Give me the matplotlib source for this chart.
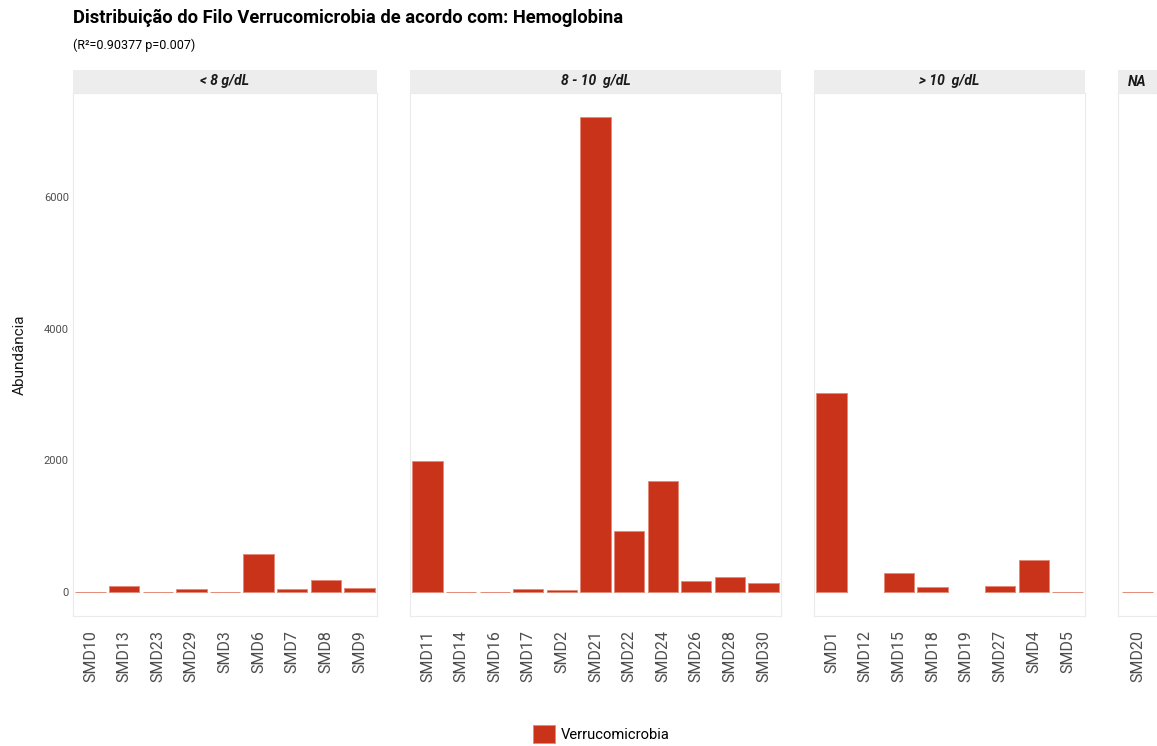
import matplotlib
matplotlib.use("Agg")
import matplotlib.pyplot as plt
from matplotlib.patches import Patch

plt.rcParams['font.family'] = ['Roboto', 'DejaVu Sans']

# Abundance of Verrucomicrobia per sample, grouped by haemoglobin level
groups = ["< 8 g/dL", "8 - 10  g/dL", "> 10  g/dL", "NA"]
samples_lt8 = ["SMD10", "SMD13", "SMD23", "SMD29", "SMD3", "SMD6", "SMD7", "SMD8", "SMD9"]
values_lt8 = [8, 88, 6, 50, 6, 577, 50, 178, 61]
samples_8_10 = ["SMD11", "SMD14", "SMD16", "SMD17", "SMD2", "SMD21", "SMD22", "SMD24", "SMD26", "SMD28", "SMD30"]
values_8_10 = [1990, 6, 6, 50, 28, 7216, 927, 1686, 167, 228, 142]
samples_gt10 = ["SMD1", "SMD12", "SMD15", "SMD18", "SMD19", "SMD27", "SMD4", "SMD5"]
values_gt10 = [3023, 0, 294, 76, 0, 101, 496, 6]
samples_na = ["SMD20"]
values_na = [6]

series_name = "Verrucomicrobia"
title = "Distribuição do Filo Verrucomicrobia de acordo com: Hemoglobina"
subtitle = "(R²=0.90377 p=0.007)"
y_label = "Abundância"
y_ticks = [0, 2000, 4000, 6000]

bar_color = "#C8331A"
edge_color = "#E58A78"
W, H = 1157, 746
fig = plt.figure(figsize=(W / 100, H / 100), dpi=100)

panels = [
    (samples_lt8, values_lt8, 73, 377),
    (samples_8_10, values_8_10, 410, 781),
    (samples_gt10, values_gt10, 814, 1085),
    (samples_na, values_na, 1118, 1157),
]
top_px, bot_px, strip_top = 93, 616, 70
ymax = max(values_lt8 + values_8_10 + values_gt10 + values_na)
ylim = (-0.05 * ymax, 1.05 * ymax)

for i, ((names, vals, x0, x1), label) in enumerate(zip(panels, groups)):
    ax = fig.add_axes([x0 / W, (H - bot_px) / H, (x1 - x0) / W, (bot_px - top_px) / H])
    xs = list(range(len(names)))
    widths = [0.7 if v > 0 else 0 for v in vals]
    ax.bar(xs, vals, width=0.9, color=bar_color, edgecolor=edge_color, linewidth=widths)
    n = len(names)
    if n == 1:
        ax.set_xlim(-0.577, 0.577)
    else:
        ax.set_xlim(-0.52, n - 0.48)
    ax.set_ylim(*ylim)
    ax.set_xticks(xs)
    ax.set_xticklabels(names, rotation=90, fontsize=11.5, color="#4D4D4D")
    ax.tick_params(axis='x', length=0, pad=10)
    ax.set_yticks(y_ticks)
    if i == 0:
        ax.set_yticklabels([str(v) for v in y_ticks], fontsize=8, color="#4D4D4D")
        ax.tick_params(axis='y', length=0, pad=3)
    else:
        ax.tick_params(axis='y', length=0, labelleft=False)
    for s in ax.spines.values():
        s.set_color("#EBEBEB")
        s.set_linewidth(0.8)
    # facet strip
    sax = fig.add_axes([x0 / W, (H - top_px) / H, (x1 - x0) / W, (top_px - strip_top) / H])
    sax.set_xticks([])
    sax.set_yticks([])
    sax.set_facecolor("#EDEDED")
    for s in sax.spines.values():
        s.set_visible(False)
    sax.text(0.5, 0.5, label, ha='center', va='center', fontsize=10,
             fontweight='bold', fontstyle='italic', color="#1A1A1A", transform=sax.transAxes)

fig.text(20 / W, 1 - 355 / H, y_label, fontsize=11, rotation=90, ha='center', va='center', color="#1A1A1A")
fig.text(73 / W, 1 - 18 / H, title, fontsize=13.2, fontweight='bold', ha='left', va='center', color="black")
fig.text(73 / W, 1 - 45 / H, subtitle, fontsize=9, ha='left', va='center', color="black")

fig.legend(handles=[Patch(facecolor=bar_color, edgecolor=edge_color, linewidth=0.7, label=series_name)],
           loc='center', bbox_to_anchor=(601 / W, 1 - 734 / H), frameon=False, fontsize=10.6,
           handlelength=1.56, handleheight=1.56, handletextpad=0.35, borderpad=0, borderaxespad=0)

fig.savefig("out.png", dpi=100, facecolor="white")
